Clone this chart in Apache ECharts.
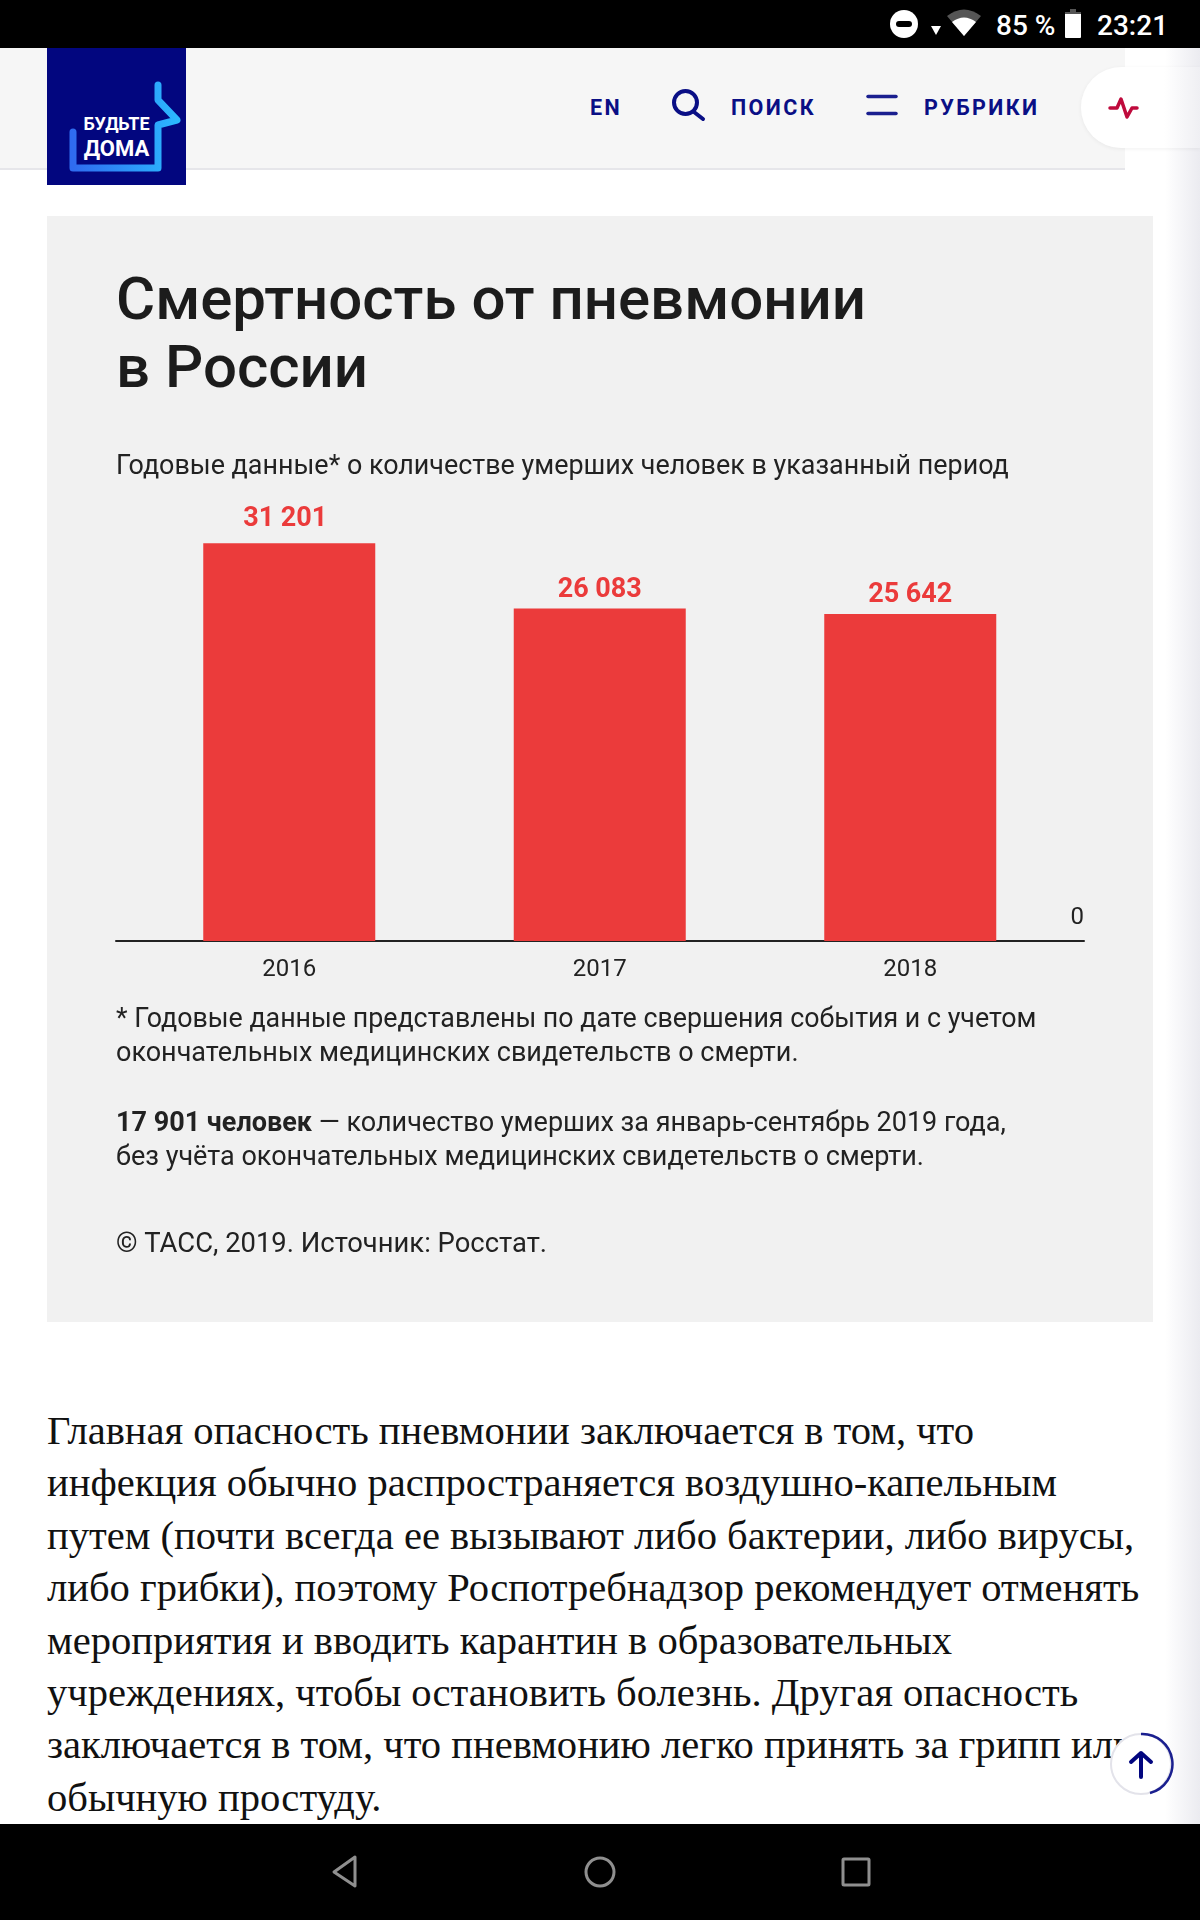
<!DOCTYPE html>
<html lang="ru">
<head>
<meta charset="utf-8">
<title>Смертность от пневмонии в России</title>
<script src="https://cdn.jsdelivr.net/npm/echarts@6/dist/echarts.min.js"></script>
<style>
html,body{margin:0;padding:0;background:#fff;width:1200px;height:1920px;overflow:hidden;font-family:Roboto,sans-serif}
.abs{position:absolute}
#top{left:0;top:0;width:1200px;height:48px;background:#000}
#bot{left:0;top:1824px;width:1200px;height:96px;background:#000}
#shade{left:1165px;top:48px;width:35px;height:1776px;background:linear-gradient(90deg,#fff,#ebebf0)}
#head{left:0;top:48px;width:1125px;height:120px;background:#f6f6f6;border-bottom:2px solid #e6e6ea}
#pill{left:1081px;top:67px;width:119px;height:81px;border-radius:41px 0 0 41px;background:linear-gradient(90deg,#fff 70%,#efeff3);box-shadow:0 1px 4px rgba(0,0,0,.06)}
#logo{left:47px;top:48px;width:139px;height:137px;background:#02067f}
.nav{color:#0a0f85;font:700 21.5px Roboto;letter-spacing:2.4px;white-space:nowrap;line-height:26px;top:95px}
.st{color:#fff;font:500 28px Roboto;top:10px;line-height:32px;white-space:nowrap}
#article{left:47px;top:1405px;width:1125px;font:40.6px/52.4px "Liberation Serif",serif;color:#111;white-space:nowrap}
#chart{left:47px;top:216px;width:1106px;height:1106px}
svg{position:absolute;left:0;top:0;overflow:visible}
</style>
</head>
<body>
<div class="abs" id="shade"></div>
<div class="abs" id="head"></div>
<div class="abs" id="pill"></div>
<div class="abs" id="logo"></div>
<div class="abs" id="chart"></div>
<div class="abs" id="article"></div>
<div class="abs" id="top"></div>
<div class="abs" id="bot"></div>
<div class="abs st" style="left:996px;">85 %</div>
<div class="abs st" style="left:1097px;">23:21</div>
<div class="abs nav" style="left:590px">EN</div>
<div class="abs nav" style="left:731px">ПОИСК</div>
<div class="abs nav" style="left:924px">РУБРИКИ</div>
<div class="abs" style="left:47px;top:113px;width:139px;text-align:center;color:#fff;font:700 18px/22px Roboto">БУДЬТЕ</div>
<div class="abs" style="left:47px;top:134px;width:139px;text-align:center;color:#fff;font:700 22px/30px Roboto">ДОМА</div>
<svg width="1200" height="1920">
  <defs><linearGradient id="lg" x1="0" y1="0" x2="1" y2="0"><stop offset="0" stop-color="#2f6bf0"/><stop offset="1" stop-color="#2bb8ff"/></linearGradient></defs>
  <circle cx="904" cy="24" r="14" fill="#fff"/><rect x="896" y="21" width="16" height="6" rx="3" fill="#000"/>
  <polygon points="931,26 941,26 936,35" fill="#fff"/>
  <path d="M964 36 L947 16 Q964 3 981 16 Z" fill="#555"/><path d="M964 36 L952 22 Q964 13 976 22 Z" fill="#fff"/>
  <rect x="1065" y="13" width="16" height="25" rx="1" fill="#fff"/><rect x="1070" y="9" width="6" height="4" fill="#555"/><rect x="1065" y="12" width="16" height="2" fill="#555"/>
  <polyline points="73,132 73,168 158,168 158,125 177,120 158,100 158,85" fill="none" stroke="url(#lg)" stroke-width="7" stroke-linecap="round" stroke-linejoin="round"/>
  <circle cx="685.5" cy="102.5" r="11.5" fill="none" stroke="#0a0f85" stroke-width="4"/><line x1="694" y1="112" x2="703" y2="119" stroke="#0a0f85" stroke-width="4" stroke-linecap="round"/>
  <line x1="868" y1="96.5" x2="896" y2="96.5" stroke="#1a1f8f" stroke-width="3.5" stroke-linecap="round"/><line x1="868" y1="113.5" x2="896" y2="113.5" stroke="#1a1f8f" stroke-width="3.5" stroke-linecap="round"/>
  <polyline points="1110,108 1117,108 1121,99 1127,117 1132,108 1137,108" fill="none" stroke="#bf0a3c" stroke-width="3.5" stroke-linejoin="round" stroke-linecap="round"/>
  <circle cx="1141" cy="1764" r="30" fill="#fff" stroke="#e3e3ea" stroke-width="2"/>
  <path d="M1141 1734 A30 30 0 0 1 1150 1793" fill="none" stroke="#1a1f8f" stroke-width="2.5"/>
  <path d="M1141 1777 V1753 M1131 1762 L1141 1753 L1151 1762" fill="none" stroke="#02067f" stroke-width="4" stroke-linecap="round" stroke-linejoin="round"/>
  <path d="M355 1857 L334 1872 L355 1886 Z" fill="none" stroke="#8f8f8f" stroke-width="3" stroke-linejoin="round"/>
  <circle cx="600" cy="1872" r="14" fill="none" stroke="#8f8f8f" stroke-width="3"/>
  <rect x="843" y="1859" width="26" height="26" rx="1" fill="none" stroke="#8f8f8f" stroke-width="3"/>
</svg>
<script>
const years = ['2016', '2017', '2018'];
const deaths = [31201, 26083, 25642];
const zeroTick = [0];
const titleLines = ['Смертность от пневмонии', 'в России'];
const subtitle = 'Годовые данные* о количестве умерших человек в указанный период';
const noteLines = [
  '* Годовые данные представлены по дате свершения события и с учетом',
  'окончательных медицинских свидетельств о смерти.'
];
const boldLead = '17 901 человек';
const boldRest = ' — количество умерших за январь-сентябрь 2019 года,';
const note2 = 'без учёта окончательных медицинских свидетельств о смерти.';
const source = '© ТАСС, 2019. Источник: Росстат.';
const articleLines = [
  'Главная опасность пневмонии заключается в том, что',
  'инфекция обычно распространяется воздушно-капельным',
  'путем (почти всегда ее вызывают либо бактерии, либо вирусы,',
  'либо грибки), поэтому Роспотребнадзор рекомендует отменять',
  'мероприятия и вводить карантин в образовательных',
  'учреждениях, чтобы остановить болезнь. Другая опасность',
  'заключается в том, что пневмонию легко принять за грипп или',
  'обычную простуду.'
];
document.getElementById('article').innerHTML = articleLines.join('<br>');

const FF = 'Roboto';
const TXT = '#222222';
const RED = '#eb3b3b';
const MAX = 32000;
const txt = (x, y, text, size, extra) => ({
  type: 'text', x, y,
  style: Object.assign({ text, fontFamily: FF, fontSize: size, fill: TXT, verticalAlign: 'middle', align: 'left' }, extra || {})
});

const chart = echarts.init(document.getElementById('chart'), null, { renderer: 'canvas' });
chart.setOption({
  animation: false,
  backgroundColor: '#f1f1f1',
  textStyle: { fontFamily: FF },
  graphic: [
    txt(69, 88, titleLines[0], 60, { fontWeight: 500, fill: '#1c1c1c' }),
    txt(69, 156, titleLines[1], 60, { fontWeight: 500, fill: '#1c1c1c' }),
    txt(69, 251, subtitle, 26.9),
    txt(69, 804, noteLines[0], 26.8),
    txt(69, 838, noteLines[1], 27),
    {
      type: 'text', x: 69, y: 908,
      style: {
        rich: {
          b: { fontFamily: FF, fontSize: 27, fontWeight: 700, fill: TXT },
          r: { fontFamily: FF, fontSize: 27, fill: TXT }
        },
        text: '{b|' + boldLead + '}{r|' + boldRest + '}',
        verticalAlign: 'middle'
      }
    },
    txt(69, 942, note2, 27),
    txt(69, 1029, source, 27.4)
  ],
  grid: [
    { left: 87, width: 931.5, top: 317, height: 408, containLabel: false },
    { left: 69, width: 968, top: 317, height: 408, containLabel: false }
  ],
  xAxis: [
    {
      type: 'category', gridIndex: 0, data: years,
      axisLine: { show: false }, axisTick: { show: false },
      axisLabel: { color: TXT, fontSize: 24, fontFamily: FF, margin: 17 }
    },
    {
      type: 'value', gridIndex: 1, min: 0, max: 1, position: 'bottom',
      axisLine: { show: true, onZero: false, lineStyle: { color: '#222', width: 2 } },
      axisTick: { show: false }, axisLabel: { show: false }, splitLine: { show: false }
    }
  ],
  yAxis: [
    { type: 'value', gridIndex: 0, min: 0, max: MAX, show: false },
    {
      type: 'value', gridIndex: 1, min: 0, max: MAX, position: 'right',
      axisLine: { show: false }, axisTick: { show: false }, splitLine: { show: false },
      axisLabel: {
        inside: true, margin: 0, customValues: zeroTick, color: TXT, fontSize: 24, fontFamily: FF,
        align: 'right', verticalAlign: 'bottom', padding: [0, 0, 11, 0]
      }
    }
  ],
  series: [{
    type: 'bar', xAxisIndex: 0, yAxisIndex: 0, barWidth: 172,
    data: deaths.map((value, i) => ({ value, label: i === 0 ? { distance: 10, offset: [-4, 0] } : { distance: 5 } })),
    itemStyle: { color: RED },
    label: {
      show: true, position: 'top', color: RED, fontSize: 27, fontWeight: 700, fontFamily: FF,
      formatter: p => String(p.value).replace(/\B(?=(\d{3})+$)/g, ' ')
    }
  }]
});
</script>
</body>
</html>
